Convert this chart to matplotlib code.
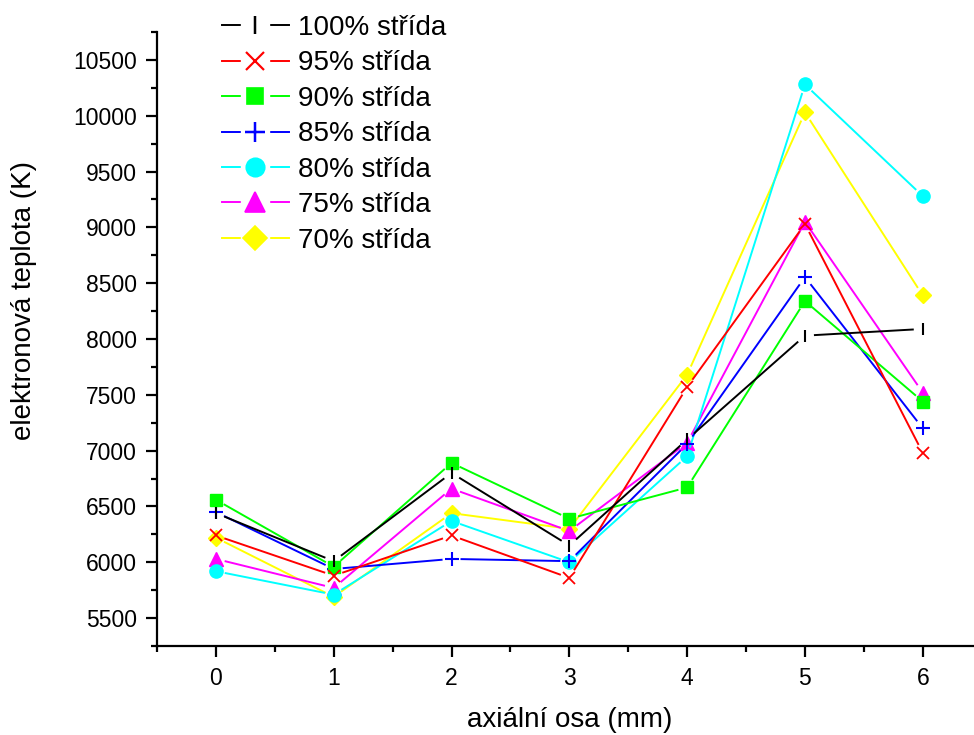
import matplotlib
matplotlib.use("Agg")
import matplotlib.pyplot as plt
from matplotlib.lines import Line2D
from matplotlib.ticker import MultipleLocator
import numpy as np

plt.rcParams["font.family"] = ["Liberation Sans", "DejaVu Sans"]

# axial position (mm)
axial_mm = [0, 1, 2, 3, 4, 5, 6]

# electron temperature (K) for each duty cycle
t_100 = [6440, 6010, 6800, 6150, 7100, 8030, 8090]
t_95 = [6240, 5880, 6240, 5860, 7570, 9030, 6980]
t_90 = [6560, 5960, 6890, 6390, 6670, 8340, 7440]
t_85 = [6450, 5940, 6030, 6010, 7060, 8555, 7200]
t_80 = [5920, 5710, 6370, 6000, 6950, 10280, 9280]
t_75 = [6030, 5770, 6660, 6280, 7070, 9050, 7520]
t_70 = [6220, 5690, 6440, 6300, 7680, 10030, 8390]

series_labels = ["100% střída", "95% střída", "90% střída", "85% střída",
                 "80% střída", "75% střída", "70% střída"]
series_values = [t_100, t_95, t_90, t_85, t_80, t_75, t_70]

colors = ["#000000", "#FF0000", "#00FF00", "#0000FF", "#00FFFF", "#FF00FF", "#FFFF00"]
markers = ["|", "x", "s", "+", "o", "^", "D"]
msizes = [9, 9, 8.5, 10, 9.5, 10, 8.5]
mews = [1.5, 1.3, 1.0, 1.5, 1.0, 1.0, 1.0]

W, H, DPI = 974, 735, 100
fig = plt.figure(figsize=(W / DPI, H / DPI), dpi=DPI)
ax = fig.add_axes([157 / W, 1 - 646 / H, 1 - 157 / W, (646 - 32) / H])
ax.set_xlim(-0.5, 6.435)
ax.set_ylim(5250, 10750)

for s in ("top", "right"):
    ax.spines[s].set_visible(False)
for s in ("left", "bottom"):
    ax.spines[s].set_linewidth(1.6)

ax.xaxis.set_major_locator(MultipleLocator(1))
ax.xaxis.set_minor_locator(MultipleLocator(0.5))
ax.yaxis.set_major_locator(MultipleLocator(500))
ax.yaxis.set_minor_locator(MultipleLocator(250))
ax.tick_params(which="major", direction="out", length=8, width=1.6, labelsize=16.5)
ax.tick_params(which="minor", direction="out", length=4, width=1.6)
ax.tick_params(axis="y", which="major", pad=6.5)
ax.tick_params(axis="x", which="major", pad=7)

ax.set_xlabel("axiální osa (mm)", fontsize=20)
ax.set_ylabel("elektronová teplota (K)", fontsize=20)
ax.xaxis.set_label_coords((570 - 157) / 817, (646 - 707) / 614)
ax.yaxis.set_label_coords((37 - 157) / 817, (646 - 301) / 614)

# connecting lines stop short of each marker, leaving a small gap
gap_px = 9.0
n = len(series_values)
for i in range(n - 1, -1, -1):
    vals = series_values[i]
    z = 10 + (n - i) * 2
    pts = ax.transData.transform(np.column_stack([axial_mm, vals]))
    for p0, p1 in zip(pts[:-1], pts[1:]):
        d = p1 - p0
        L = np.hypot(*d)
        if L <= 2 * gap_px:
            continue
        u = d / L
        a = ax.transData.inverted().transform(p0 + u * gap_px)
        b = ax.transData.inverted().transform(p1 - u * gap_px)
        ax.plot([a[0], b[0]], [a[1], b[1]], color=colors[i], lw=1.4,
                solid_capstyle="butt", zorder=z)
    ax.plot(axial_mm, vals, linestyle="none", marker=markers[i],
            markersize=msizes[i], color=colors[i], markeredgewidth=mews[i],
            zorder=z + 1, clip_on=False)

# legend entries: line, white knock-out behind marker, marker
handles = []
for i in range(n):
    line = Line2D([], [], color=colors[i], lw=1.4)
    knock = Line2D([], [], linestyle="none", marker="s", markersize=20,
                   markerfacecolor="white", markeredgecolor="white")
    mk = Line2D([], [], linestyle="none", marker=markers[i],
                markersize=msizes[i] * 1.4, color=colors[i],
                markeredgewidth=mews[i] * 1.2)
    handles.append((line, knock, mk))

fig.legend(handles, series_labels, loc="upper left",
           bbox_to_anchor=(222 / W, 1 - 15 / H), frameon=False, fontsize=20,
           handlelength=2.4, handletextpad=0.35, labelspacing=0.34,
           borderpad=0, borderaxespad=0)

fig.savefig("out.png", dpi=DPI)
